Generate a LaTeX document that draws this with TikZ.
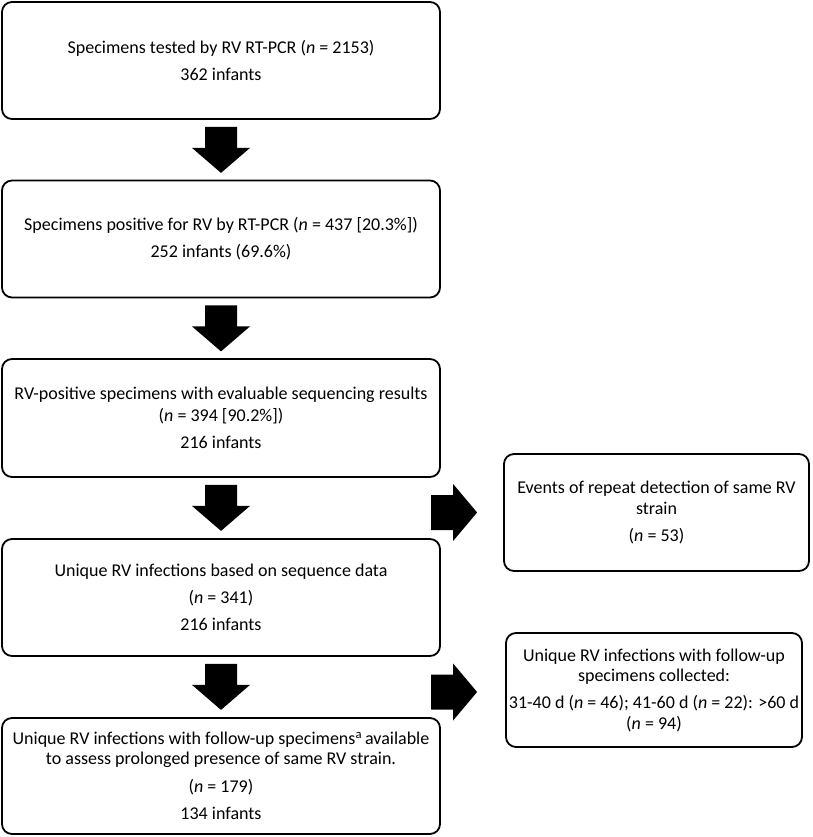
\documentclass[tikz,border=0pt]{standalone}
\usepackage{fontspec}
\setmainfont{Carlito}
\usetikzlibrary{positioning}

\begin{document}
\begin{tikzpicture}[x=1pt, y=-1pt,
  box/.style={draw, line width=1.8pt, rounded corners=10pt, align=center,
    inner xsep=0pt, inner ysep=2pt, font=\fontsize{18}{20.5}\selectfont},
  leftbox/.style={box, minimum width=438pt, minimum height=117pt},
  downarrow/.pic={\fill (-16,0) -- (16,0) -- (16,21) -- (29,21) -- (0,46) -- (-29,21) -- (-16,21) -- cycle;},
  rightarrow/.pic={\fill (0,-17.5) -- (22,-17.5) -- (22,-28.5) -- (46,0) -- (22,28.5) -- (22,17.5) -- (0,17.5) -- cycle;}]
\useasboundingbox (0,0) rectangle (812,837);

% main column
\node[leftbox] (tested) at (221,60.5) {Specimens tested by RV RT-PCR (\textit{n} = 2153)\\[6.5pt] 362 infants};
\node[leftbox] (positive) at (221,239) {Specimens positive for RV by RT-PCR (\textit{n} = 437 [20.3\%])\\[6.5pt] 252 infants (69.6\%)};
\node[leftbox, minimum height=118pt] (sequenced) at (221,418) {RV-positive specimens with evaluable sequencing results\\[2pt] (\textit{n} = 394 [90.2\%])\\[6.5pt] 216 infants};
\node[leftbox] (unique) at (221,597.5) {Unique RV infections based on sequence data\\[6.5pt] (\textit{n} = 341)\\[6.5pt] 216 infants};
\node[leftbox, minimum height=116pt] (followup) at (221,776) {Unique RV infections with follow-up specimens\textsuperscript{a}\,available\\ to assess prolonged presence of same RV strain.\\[7.5pt] (\textit{n} = 179)\\[6.5pt] 134 infants};

% side boxes
\node[box, minimum width=305pt, minimum height=117pt] (repeat) at (656.5,512.5) {Events of repeat detection of same RV\\ strain\\[6.5pt] (\textit{n} = 53)};
\node[box, minimum width=296pt, minimum height=114pt] (collected) at (654,690) {Unique RV infections with follow-up\\ specimens collected:\\[6.5pt] 31-40 d (\textit{n} = 46); 41-60 d (\textit{n} = 22): >60 d\\ (\textit{n} = 94)};

% block arrows
\path (tested.south) ++(0,7) pic {downarrow};
\path (positive.south) ++(0,7) pic {downarrow};
\path (sequenced.south) ++(0,7) pic {downarrow};
\path (unique.south) ++(0,7) pic {downarrow};
\path (repeat.west) ++(-72,0) pic {rightarrow};
\path (collected.west) ++(-74,2) pic {rightarrow};

\end{tikzpicture}
\end{document}
